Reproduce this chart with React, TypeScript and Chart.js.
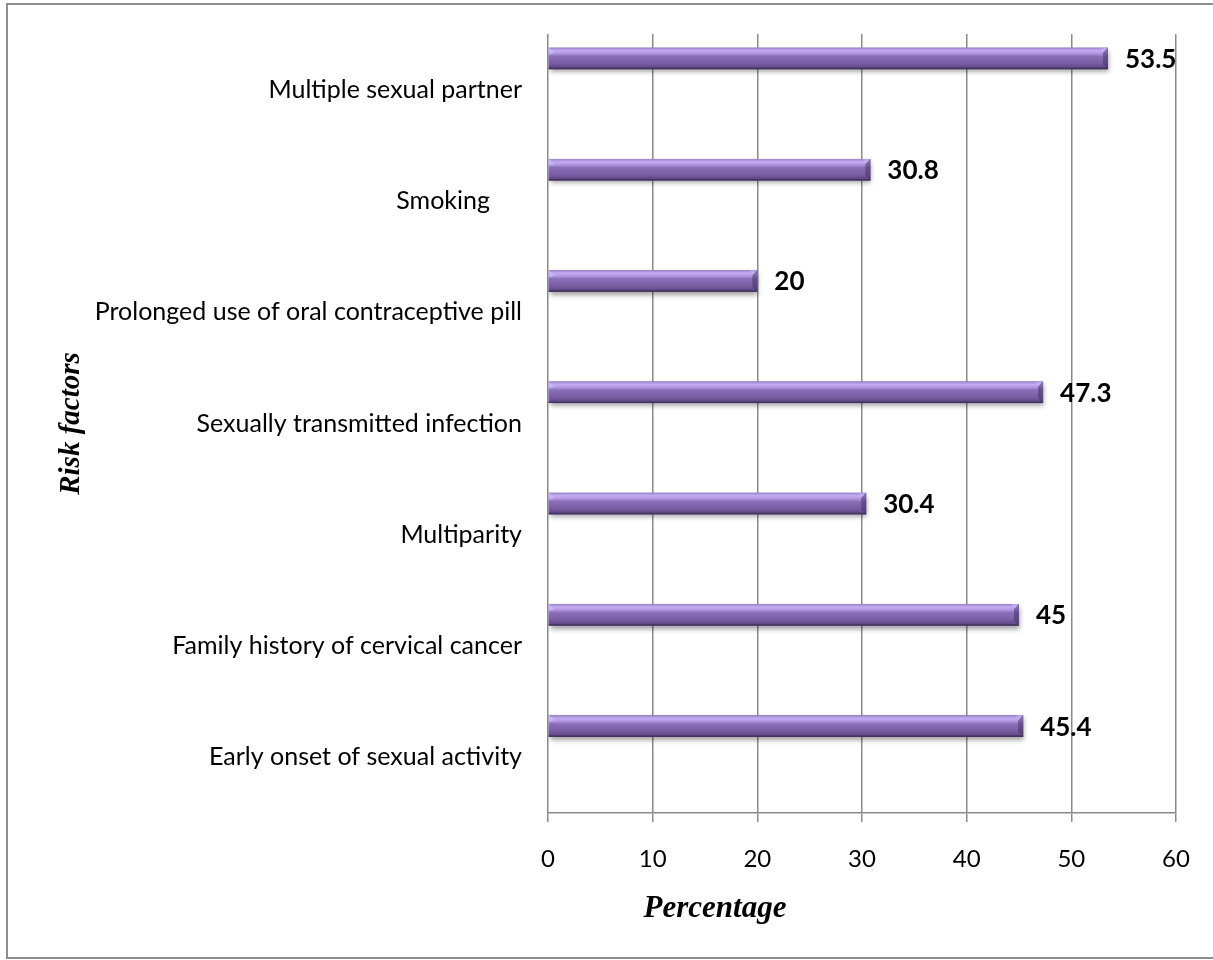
import { useEffect, useRef } from "react";
import { Chart, registerables } from "chart.js";

Chart.register(...registerables);

// Risk factors, top to bottom (the Smoking entry carries trailing spaces, as entered)
const categories = [
  "Multiple sexual partner",
  "Smoking     ",
  "Prolonged use of oral contraceptive pill",
  "Sexually transmitted infection",
  "Multiparity",
  "Family history of cervical cancer",
  "Early onset of sexual activity",
];

// Share of respondents (%)
const percentages = [53.5, 30.8, 20, 47.3, 30.4, 45, 45.4];

// Empty companion series that hold the lower part of each category slot
const emptySeriesA = [null, null, null, null, null, null, null];
const emptySeriesB = [null, null, null, null, null, null, null];

const xTickValues = [0, 10, 20, 30, 40, 50, 60];

const SANS = "Lato, 'Open Sans', sans-serif";
const SERIF = "'Liberation Serif', 'Times New Roman', serif";

// Bevelled purple bars with a soft drop shadow
const bevelBars = {
  id: "bevelBars",
  beforeDatasetDraw(chart: any, args: any) {
    if (args.index !== 0) return;
    const ctx = chart.ctx;
    ctx.save();
    ctx.shadowColor = "rgba(0,0,0,0.38)";
    ctx.shadowBlur = 5;
    ctx.shadowOffsetX = 1;
    ctx.shadowOffsetY = 3;
  },
  afterDatasetDraw(chart: any, args: any) {
    if (args.index !== 0) return;
    const ctx = chart.ctx;
    ctx.restore();
    ctx.save();
    for (const el of args.meta.data) {
      const { x, y, base, height } = el.getProps(["x", "y", "base", "height"], true);
      if (x == null || isNaN(x)) continue;
      const top = y - height / 2;
      const bot = y + height / 2;
      const left = Math.min(base, x);
      const right = Math.max(base, x);
      const b = Math.min(5, (right - left) / 2);

      const g = ctx.createLinearGradient(0, top, 0, bot);
      g.addColorStop(0, "#9c83c8");
      g.addColorStop(0.14, "#c4acf2");
      g.addColorStop(0.28, "#ae94df");
      g.addColorStop(0.4, "#8a6eb8");
      g.addColorStop(0.72, "#7a5ea3");
      g.addColorStop(0.9, "#644b8a");
      g.addColorStop(1, "#4b3868");
      ctx.fillStyle = g;
      ctx.fillRect(left, top, right - left, bot - top);

      // right end: light upper facet, dark side
      ctx.beginPath();
      ctx.moveTo(right, top);
      ctx.lineTo(right - b, top + b);
      ctx.lineTo(right - b, bot - b);
      ctx.lineTo(right, bot);
      ctx.closePath();
      ctx.fillStyle = "rgba(70,52,100,0.55)";
      ctx.fill();
      ctx.beginPath();
      ctx.moveTo(right, top);
      ctx.lineTo(right - b - 2, top);
      ctx.lineTo(right - b, top + b);
      ctx.closePath();
      ctx.fillStyle = "rgba(200,180,240,0.6)";
      ctx.fill();

      // left end: light corner facet
      ctx.beginPath();
      ctx.moveTo(left, top);
      ctx.lineTo(left + b + 1, top + b);
      ctx.lineTo(left, top + b + 2);
      ctx.closePath();
      ctx.fillStyle = "rgba(205,188,245,0.7)";
      ctx.fill();

      // bottom edge
      ctx.fillStyle = "rgba(55,40,80,0.55)";
      ctx.fillRect(left, bot - 1.5, right - left, 1.5);
    }
    ctx.restore();
  },
};

// Value labels to the right of each bar
const valueLabels = {
  id: "valueLabels",
  afterDatasetsDraw(chart: any) {
    const ctx = chart.ctx;
    const meta = chart.getDatasetMeta(0);
    ctx.save();
    ctx.font = `bold 26px ${SANS}`;
    ctx.fillStyle = "#000";
    ctx.textAlign = "left";
    ctx.textBaseline = "middle";
    meta.data.forEach((el: any, i: number) => {
      const { x, y } = el.getProps(["x", "y"], true);
      ctx.fillText(String(percentages[i]), x + 17, y + 1);
    });
    ctx.restore();
  },
};

// Horizontal axis title, set left of centre beneath the scale
const xAxisTitle = {
  id: "xAxisTitle",
  afterDraw(chart: any) {
    const { ctx, chartArea } = chart;
    ctx.save();
    ctx.font = `italic bold 31px ${SERIF}`;
    ctx.fillStyle = "#000";
    ctx.textAlign = "center";
    ctx.textBaseline = "middle";
    ctx.fillText("Percentage", chartArea.left + 167, chartArea.bottom + 96);
    ctx.restore();
  },
};

export default function App() {
  const canvasRef = useRef<HTMLCanvasElement | null>(null);

  useEffect(() => {
    const canvas = canvasRef.current;
    if (!canvas) return;
    const chart = new Chart(canvas, {
      type: "bar",
      data: {
        labels: categories,
        datasets: [
          { data: percentages, backgroundColor: "#7f63a8", borderWidth: 0 },
          { data: emptySeriesA, backgroundColor: "transparent" },
          { data: emptySeriesB, backgroundColor: "transparent" },
        ],
      },
      options: {
        indexAxis: "y",
        responsive: false,
        animation: false,
        devicePixelRatio: 1,
        categoryPercentage: 0.842,
        barPercentage: 0.69,
        layout: { padding: { left: 0, top: 34, right: 37, bottom: 0 } },
        plugins: {
          legend: { display: false },
          tooltip: { enabled: false },
          title: { display: false },
        },
        scales: {
          x: {
            type: "linear",
            min: 0,
            max: 60,
            afterBuildTicks: (scale: any) => {
              scale.ticks = xTickValues.map((v) => ({ value: v }));
            },
            afterFit: (scale: any) => {
              scale.height = 147;
            },
            grid: {
              color: "#8a8a8a",
              lineWidth: 1.5,
              drawTicks: true,
              tickLength: 9,
              tickColor: "#8a8a8a",
            },
            border: { display: true, color: "#8a8a8a", width: 1.5 },
            ticks: {
              color: "#000",
              padding: 23,
              font: { family: SANS, size: 24 },
              maxRotation: 0,
            },
          },
          y: {
            type: "category",
            afterFit: (scale: any) => {
              // fixed label column; the labels sit mid-band, so no extra end padding is needed
              scale.width = 548;
              scale.paddingTop = 0;
              scale.paddingBottom = 0;
            },
            grid: { display: false, drawTicks: false },
            border: { display: false },
            ticks: {
              color: "#000",
              padding: 26,
              autoSkip: false,
              font: { family: SANS, size: 25 },
            },
            title: {
              display: true,
              text: "Risk factors",
              color: "#000",
              padding: { top: 54, bottom: 0 },
              font: { family: SERIF, size: 29, style: "italic", weight: "bold" },
            },
          },
        },
      },
      plugins: [bevelBars, valueLabels, xAxisTitle],
    });
    return () => chart.destroy();
  }, []);

  return (
    <div
      style={{
        position: "fixed",
        left: 0,
        top: 0,
        width: 1213,
        height: 960,
        overflow: "hidden",
        background: "#fff",
      }}
    >
      <div
        style={{
          position: "absolute",
          left: 6,
          top: 3,
          width: 1230,
          height: 956,
          boxSizing: "border-box",
          border: "2px solid #8e8e8e",
        }}
      />
      <canvas
        ref={canvasRef}
        width={1213}
        height={960}
        style={{ position: "absolute", left: 0, top: 0, width: 1213, height: 960 }}
      />
    </div>
  );
}
